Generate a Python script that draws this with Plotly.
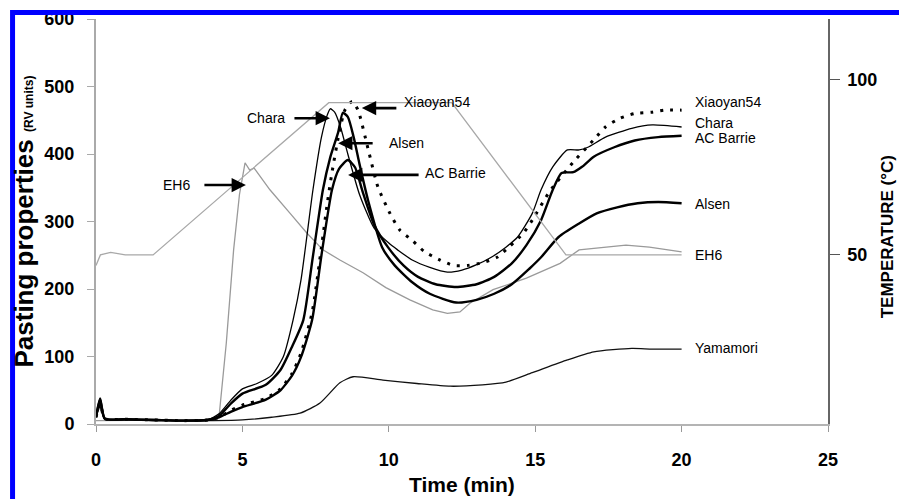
import plotly.graph_objects as go

# ---------------- data ----------------
chara_t = [0, 0.14, 0.3, 1, 2, 3, 3.8, 4.2, 4.6, 5.0, 5.5, 6.0, 6.4, 6.73, 7.0, 7.41, 7.7, 7.9, 8.0, 8.15,
           8.35, 8.6, 9.0, 9.5, 10.0, 10.3, 10.8, 11.4, 12.0, 12.5, 13.0, 13.5, 14.0, 14.4, 14.9, 15.2, 15.6,
           16.1, 16.5, 16.8, 17.4, 18.3, 19.0, 20.0]
chara_v = [12, 32, 8, 7, 6, 5, 6, 15, 35, 52, 60, 72, 100, 154, 213, 347, 425, 458, 467, 462,
           440, 400, 340, 290, 268, 258, 243, 232, 225, 228, 236, 247, 262, 277, 312, 347, 381,
           406, 406, 410, 425, 438, 443, 440]

alsen_t = [0, 0.14, 0.3, 1, 2, 3, 3.8, 4.2, 4.6, 5.0, 5.8, 6.3, 6.7, 7.08, 7.4, 7.75, 8.0, 8.27, 8.43, 8.6,
           8.8, 9.0, 9.3, 9.77, 10.2, 10.8, 11.4, 12.3, 13.0, 13.6, 14.2, 14.8, 15.2, 15.8, 16.5, 17.1, 17.8,
           18.5, 19.2, 20.0]
alsen_v = [10, 36, 8, 7, 6, 5, 6, 12, 30, 45, 58, 80, 115, 154, 246, 347, 395, 432, 461, 455,
           425, 385, 330, 262, 235, 210, 193, 180, 184, 193, 207, 230, 247, 277, 297, 312, 321,
           327, 329, 327]

acbarrie_t = [0, 0.14, 0.3, 1, 2, 3, 3.8, 4.2, 4.6, 5.0, 5.8, 6.3, 6.7, 7.0, 7.38, 7.7, 8.06, 8.3, 8.6, 8.85,
              9.1, 9.5, 9.97, 10.5, 11.0, 11.6, 12.3, 13.0, 13.6, 14.2, 14.7, 15.2, 15.6, 15.9, 16.3, 16.6,
              17.0, 17.7, 18.4, 19.2, 20.0]
acbarrie_v = [10, 38, 8, 7, 6, 5, 6, 10, 18, 25, 36, 50, 72, 99, 154, 250, 347, 378, 391, 380,
              345, 295, 262, 235, 218, 207, 203, 207, 218, 238, 265, 302, 347, 372, 373, 381,
              396, 410, 420, 425, 427]

xiaoyan_t = [0, 0.14, 0.3, 1, 2, 3, 3.8, 4.2, 4.6, 5.0, 5.8, 6.3, 6.7, 7.0, 7.38, 7.7, 7.9, 8.05, 8.3, 8.5,
             8.75, 8.95, 9.3, 9.63, 10.04, 10.38, 10.8, 11.2, 11.7, 12.2, 12.7, 13.2, 13.7, 14.1, 14.6, 14.9,
             15.5, 16.3, 17.0, 17.4, 17.9, 18.4, 19.0, 19.4, 20.0]
xiaoyan_v = [10, 30, 8, 7, 6, 5, 6, 10, 20, 28, 38, 52, 75, 105, 165, 262, 327, 370, 430, 465,
             478, 465, 406, 351, 312, 287, 272, 256, 244, 235, 235, 239, 247, 262, 283, 302,
             345, 388, 421, 440, 453, 460, 462, 465, 465]

eh6_t = [0, 1, 2, 3, 3.9, 4.2, 4.45, 4.7, 4.9, 5.09, 5.25, 5.4, 5.55, 5.94, 6.63, 7.2, 7.75, 8.33, 9.12,
         9.9, 10.72, 11.5, 12.0, 12.43, 12.77, 13.56, 14.7, 15.85, 16.5, 17.45, 18.1, 18.9, 20.0]
eh6_v = [5, 5, 5, 5, 6, 10, 120, 258, 340, 387, 376, 379, 370, 347, 312, 283, 258, 243, 224,
         202, 184, 169, 164, 166, 179, 199, 216, 238, 258, 262, 265, 262, 255]

yamamori_t = [0, 0.14, 0.3, 1, 2, 3, 4, 5, 6, 6.97, 7.65, 8.33, 8.78, 9.8, 10.96, 12.1, 13.2, 14.0, 14.9,
              16.1, 17.0, 18.3, 19.0, 20.0]
yamamori_v = [10, 25, 7, 6, 5, 5, 5, 6, 10, 16, 31, 61, 70, 65, 60, 56, 58, 62, 76,
              95, 107, 112, 111, 111]

temp_t = [0, 0.15, 0.5, 1.0, 1.95, 7.95, 12.15, 16.05, 20.0]
temp_c = [47, 50, 50.7, 50, 50, 93.5, 93.5, 50, 50]

end_labels = ["Xiaoyan54", "Chara", "AC Barrie", "Alsen", "EH6", "Yamamori"]
end_label_y = [477, 446, 424, 326, 250, 113]

x_ticks = [0, 5, 10, 15, 20, 25]
y_ticks = [0, 100, 200, 300, 400, 500, 600]
t_ticks = [50, 100]

FONT = "Liberation Sans"

fig = go.Figure()

fig.add_trace(go.Scatter(x=temp_t, y=temp_c, yaxis="y2", mode="lines", name="Temperature",
                         line=dict(color="#a8a8a8", width=1.3)))
fig.add_trace(go.Scatter(x=eh6_t, y=eh6_v, mode="lines", name="EH6",
                         line=dict(color="#9a9a9a", width=1.3)))
fig.add_trace(go.Scatter(x=yamamori_t, y=yamamori_v, mode="lines", name="Yamamori",
                         line=dict(color="#111", width=1.3, shape="spline", smoothing=0.6)))
fig.add_trace(go.Scatter(x=acbarrie_t, y=acbarrie_v, mode="lines", name="AC Barrie",
                         line=dict(color="black", width=2.4, shape="spline", smoothing=0.6)))
fig.add_trace(go.Scatter(x=alsen_t, y=alsen_v, mode="lines", name="Alsen",
                         line=dict(color="black", width=2.4, shape="spline", smoothing=0.6)))
fig.add_trace(go.Scatter(x=chara_t, y=chara_v, mode="lines", name="Chara",
                         line=dict(color="black", width=1.3, shape="spline", smoothing=0.6)))
fig.add_trace(go.Scatter(x=xiaoyan_t, y=xiaoyan_v, mode="lines", name="Xiaoyan54",
                         line=dict(color="black", width=3, dash="3px,7px", shape="spline", smoothing=0.6)))

annotations = []
# end-of-curve labels
for lab, yv in zip(end_labels, end_label_y):
    annotations.append(dict(x=20.38, y=yv, xref="x", yref="y", text=lab, showarrow=False,
                            xanchor="left", yanchor="middle",
                            font=dict(family=FONT, size=14, color="black")))

# arrow callouts: (label, head_x, head_y, tail offset px, text x, text y, anchor)
arrows = [
    ("Chara", 7.99, 453, -37, 6.52, 453, "right"),
    ("EH6", 5.12, 354, -43, 3.28, 354, "right"),
    ("Xiaoyan54", 9.08, 468, 36, 10.45, 477, "left"),
    ("Alsen", 8.27, 416, 36, 9.94, 416, "left"),
    ("AC Barrie", 8.61, 369, 72, 11.17, 372, "left"),
]
for lab, hx, hy, ax, tx, ty, anc in arrows:
    annotations.append(dict(x=hx, y=hy, xref="x", yref="y", text="", showarrow=True,
                            ax=ax, ay=0, arrowhead=2, arrowsize=1.1, arrowwidth=2.6,
                            arrowcolor="black"))
    annotations.append(dict(x=tx, y=ty, xref="x", yref="y", text=lab, showarrow=False,
                            xanchor=anc, yanchor="middle",
                            font=dict(family=FONT, size=14, color="black")))

# axis titles
annotations.append(dict(x=0.5, y=-0.183, xref="paper", yref="paper", text="Time (min)",
                        showarrow=False, xanchor="center", yanchor="bottom",
                        font=dict(family=FONT, size=21, color="black", weight="bold")))
annotations.append(dict(x=-0.0997, y=0.5, xref="paper", yref="paper",
                        text="Pasting properties <span style='font-size:12px'>(RV units)</span>",
                        textangle=-90, showarrow=False, xanchor="center", yanchor="middle",
                        font=dict(family=FONT, size=26, color="black", weight="bold")))
annotations.append(dict(x=1.081, y=0.4617, xref="paper", yref="paper", text="TEMPERATURE (°C)",
                        textangle=-90, showarrow=False, xanchor="center", yanchor="middle",
                        font=dict(family=FONT, size=17, color="black", weight="bold")))

tickfont = dict(family=FONT, size=18, color="black", weight="bold")

fig.update_layout(
    width=899, height=499,
    margin=dict(l=96, r=71, t=19, b=75, autoexpand=False),
    paper_bgcolor="white", plot_bgcolor="white",
    showlegend=False,
    xaxis=dict(range=[0, 25], tickvals=x_ticks, ticks="outside", ticklen=6, tickcolor="#999",
               tickwidth=1.2, showline=True, linecolor="#b4b4b4", linewidth=2, showgrid=False,
               zeroline=False, tickfont=tickfont, ticklabelstandoff=12),
    yaxis=dict(range=[0, 600], tickvals=y_ticks, ticks="outside", ticklen=7, tickcolor="#aaa",
               tickwidth=1.2, showline=True, linecolor="#aaaaaa", linewidth=2, showgrid=False,
               zeroline=False, tickfont=tickfont, ticklabelstandoff=9),
    yaxis2=dict(range=[1.7, 117.4], tickvals=t_ticks, overlaying="y", side="right", ticks="outside",
                ticklen=10, tickcolor="#555", tickwidth=1.2, showline=True, linecolor="#666",
                linewidth=1.5, showgrid=False, zeroline=False, tickfont=tickfont,
                ticklabelstandoff=4),
    annotations=annotations,
    shapes=[dict(type="rect", xref="paper", yref="paper", x0=-0.114, x1=1.11, y0=-0.25, y1=1.016,
                 line=dict(color="#0000ff", width=5), fillcolor="rgba(0,0,0,0)", layer="above")],
)

fig.write_html("out.html")
